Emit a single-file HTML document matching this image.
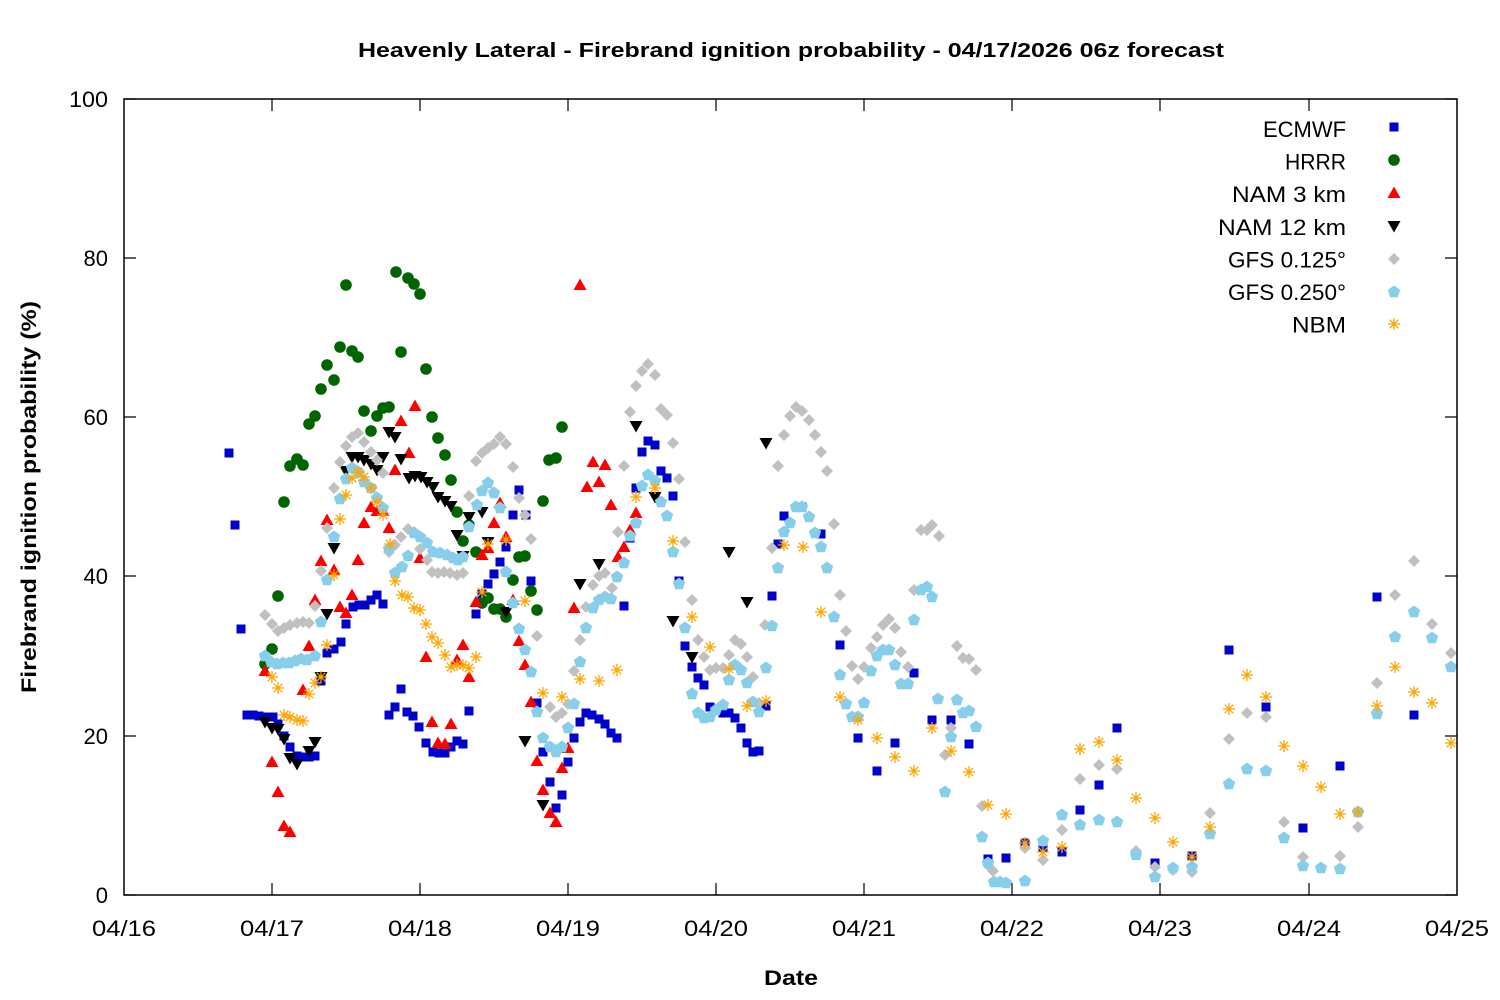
<!DOCTYPE html>
<html><head><meta charset="utf-8"><style>html,body{margin:0;padding:0;background:#fff}svg{display:block}text{font-family:"Liberation Sans",sans-serif;fill:#000}</style></head><body>
<svg width="1500" height="1000" viewBox="0 0 1500 1000" xmlns="http://www.w3.org/2000/svg">
<defs>
<rect id="s" x="-4.5" y="-4.5" width="9" height="9" fill="#0000cc"/>
<circle id="c" r="5.8" fill="#006400"/>
<polygon id="u" points="0,-6.5 6.5,5 -6.5,5" fill="#ff0000"/>
<polygon id="d" points="-6.5,-5 6.5,-5 0,6.5" fill="#000"/>
<polygon id="g" points="0,-6 6,0 0,6 -6,0" fill="#c0c0c0"/>
<polygon id="p" points="0,-6.5 6.18,-2.01 3.82,5.26 -3.82,5.26 -6.18,-2.01" fill="#87ceeb"/>
<path id="a" d="M-6,0H6M0,-6V6M-4.3,-4.3L4.3,4.3M-4.3,4.3L4.3,-4.3" stroke="#ffa500" stroke-width="1.3" fill="none"/>
</defs>
<rect x="0" y="0" width="1500" height="1000" fill="#fff"/>
<text x="791" y="57" text-anchor="middle" font-size="20" font-weight="bold" textLength="866" lengthAdjust="spacingAndGlyphs">Heavenly Lateral - Firebrand ignition probability - 04/17/2026 06z forecast</text>
<g stroke="#000" stroke-width="1.2">
<path d="M124,895h12M124,736h12M124,576h12M124,417h12M124,258h12M124,99h12M1457,895h-12M1457,736h-12M1457,576h-12M1457,417h-12M1457,258h-12M1457,99h-12"/>
<path d="M272,895v-12M420,895v-12M568,895v-12M716,895v-12M864,895v-12M1012,895v-12M1160,895v-12M1309,895v-12M272,99v12M420,99v12M568,99v12M716,99v12M864,99v12M1012,99v12M1160,99v12M1309,99v12"/>
</g>
<g font-size="22" text-anchor="end">
<text x="108" y="903">0</text>
<text x="108" y="744">20</text>
<text x="108" y="584">40</text>
<text x="108" y="425">60</text>
<text x="108" y="266">80</text>
<text x="108" y="107" textLength="39" lengthAdjust="spacingAndGlyphs">100</text>
</g>
<g font-size="22" text-anchor="middle">
<text x="124" y="936" textLength="64" lengthAdjust="spacingAndGlyphs">04/16</text>
<text x="272" y="936" textLength="64" lengthAdjust="spacingAndGlyphs">04/17</text>
<text x="420" y="936" textLength="64" lengthAdjust="spacingAndGlyphs">04/18</text>
<text x="568" y="936" textLength="64" lengthAdjust="spacingAndGlyphs">04/19</text>
<text x="716" y="936" textLength="64" lengthAdjust="spacingAndGlyphs">04/20</text>
<text x="864" y="936" textLength="64" lengthAdjust="spacingAndGlyphs">04/21</text>
<text x="1012" y="936" textLength="64" lengthAdjust="spacingAndGlyphs">04/22</text>
<text x="1160" y="936" textLength="64" lengthAdjust="spacingAndGlyphs">04/23</text>
<text x="1309" y="936" textLength="64" lengthAdjust="spacingAndGlyphs">04/24</text>
<text x="1457" y="936" textLength="64" lengthAdjust="spacingAndGlyphs">04/25</text>
</g>
<text x="791" y="985" text-anchor="middle" font-size="21" font-weight="bold" textLength="54" lengthAdjust="spacingAndGlyphs">Date</text>
<text transform="translate(36,497) rotate(-90)" text-anchor="middle" font-size="21" font-weight="bold" textLength="392" lengthAdjust="spacingAndGlyphs">Firebrand ignition probability (%)</text>
<g font-size="22" text-anchor="end">
<text x="1346" y="137" textLength="83" lengthAdjust="spacingAndGlyphs">ECMWF</text>
<text x="1346" y="169.5" textLength="61" lengthAdjust="spacingAndGlyphs">HRRR</text>
<text x="1346" y="202" textLength="114" lengthAdjust="spacingAndGlyphs">NAM 3 km</text>
<text x="1346" y="235" textLength="128" lengthAdjust="spacingAndGlyphs">NAM 12 km</text>
<text x="1346" y="267.5" textLength="118" lengthAdjust="spacingAndGlyphs">GFS 0.125°</text>
<text x="1346" y="300" textLength="118" lengthAdjust="spacingAndGlyphs">GFS 0.250°</text>
<text x="1346" y="332.5" textLength="54" lengthAdjust="spacingAndGlyphs">NBM</text>
</g>
<use href="#s" x="1394" y="127"/>
<use href="#c" x="1394" y="160"/>
<use href="#u" x="1394" y="193"/>
<use href="#d" x="1394" y="226"/>
<use href="#g" x="1394" y="259"/>
<use href="#p" x="1394" y="292"/>
<use href="#a" x="1394" y="324"/>
<!-- ECMWF -->
<g>
<use href="#s" x="229" y="453"/><use href="#s" x="235" y="525"/><use href="#s" x="241" y="629"/><use href="#s" x="247" y="715"/><use href="#s" x="253" y="715"/><use href="#s" x="259" y="716"/><use href="#s" x="265" y="717"/><use href="#s" x="273" y="717"/><use href="#s" x="278" y="724"/><use href="#s" x="284" y="736"/><use href="#s" x="290" y="747"/><use href="#s" x="297" y="756"/><use href="#s" x="303" y="757"/><use href="#s" x="309" y="757"/><use href="#s" x="315" y="756"/><use href="#s" x="321" y="681"/><use href="#s" x="327" y="653"/><use href="#s" x="334" y="649"/><use href="#s" x="341" y="642"/><use href="#s" x="346" y="624"/><use href="#s" x="353" y="607"/><use href="#s" x="359" y="605"/><use href="#s" x="365" y="605"/><use href="#s" x="371" y="600"/><use href="#s" x="377" y="595"/><use href="#s" x="383" y="604"/><use href="#s" x="389" y="715"/><use href="#s" x="395" y="707"/><use href="#s" x="401" y="689"/><use href="#s" x="407" y="712"/><use href="#s" x="413" y="716"/><use href="#s" x="419" y="727"/><use href="#s" x="426" y="743"/><use href="#s" x="433" y="752"/><use href="#s" x="439" y="753"/><use href="#s" x="445" y="753"/><use href="#s" x="451" y="747"/><use href="#s" x="457" y="741"/><use href="#s" x="463" y="744"/><use href="#s" x="469" y="711"/><use href="#s" x="476" y="614"/><use href="#s" x="482" y="594"/><use href="#s" x="488" y="584"/><use href="#s" x="494" y="574"/><use href="#s" x="500" y="562"/><use href="#s" x="506" y="547"/><use href="#s" x="513" y="515"/><use href="#s" x="519" y="490"/><use href="#s" x="526" y="515"/><use href="#s" x="531" y="581"/><use href="#s" x="537" y="703"/><use href="#s" x="543" y="752"/><use href="#s" x="550" y="782"/><use href="#s" x="556" y="808"/><use href="#s" x="562" y="795"/><use href="#s" x="568" y="762"/><use href="#s" x="574" y="738"/><use href="#s" x="580" y="722"/><use href="#s" x="586" y="713"/><use href="#s" x="592" y="715"/><use href="#s" x="599" y="719"/><use href="#s" x="605" y="724"/><use href="#s" x="611" y="733"/><use href="#s" x="617" y="738"/><use href="#s" x="624" y="606"/><use href="#s" x="630" y="538"/><use href="#s" x="636" y="488"/><use href="#s" x="642" y="452"/><use href="#s" x="648" y="441"/><use href="#s" x="655" y="445"/><use href="#s" x="661" y="471"/><use href="#s" x="667" y="478"/><use href="#s" x="673" y="496"/><use href="#s" x="679" y="581"/><use href="#s" x="685" y="646"/><use href="#s" x="692" y="667"/><use href="#s" x="698" y="678"/><use href="#s" x="704" y="685"/><use href="#s" x="710" y="707"/><use href="#s" x="716" y="709"/><use href="#s" x="723" y="713"/><use href="#s" x="729" y="713"/><use href="#s" x="735" y="718"/><use href="#s" x="741" y="728"/><use href="#s" x="747" y="743"/><use href="#s" x="753" y="752"/><use href="#s" x="759" y="751"/><use href="#s" x="766" y="706"/><use href="#s" x="772" y="596"/><use href="#s" x="778" y="544"/><use href="#s" x="784" y="516"/><use href="#s" x="802" y="507"/><use href="#s" x="821" y="534"/><use href="#s" x="840" y="645"/><use href="#s" x="858" y="738"/><use href="#s" x="877" y="771"/><use href="#s" x="895" y="743"/><use href="#s" x="914" y="673"/><use href="#s" x="932" y="720"/><use href="#s" x="951" y="720"/><use href="#s" x="969" y="744"/><use href="#s" x="988" y="859"/><use href="#s" x="1006" y="858"/><use href="#s" x="1025" y="843"/><use href="#s" x="1043" y="848"/><use href="#s" x="1062" y="852"/><use href="#s" x="1080" y="810"/><use href="#s" x="1099" y="785"/><use href="#s" x="1117" y="728"/><use href="#s" x="1155" y="863"/><use href="#s" x="1192" y="856"/><use href="#s" x="1229" y="650"/><use href="#s" x="1266" y="707"/><use href="#s" x="1303" y="828"/><use href="#s" x="1340" y="766"/><use href="#s" x="1377" y="597"/><use href="#s" x="1414" y="715"/>
</g>
<!-- HRRR -->
<g>
<use href="#c" x="265" y="664"/><use href="#c" x="272" y="649"/><use href="#c" x="278" y="596"/><use href="#c" x="284" y="502"/><use href="#c" x="290" y="466"/><use href="#c" x="297" y="459"/><use href="#c" x="303" y="465"/><use href="#c" x="309" y="424"/><use href="#c" x="315" y="416"/><use href="#c" x="321" y="389"/><use href="#c" x="327" y="365"/><use href="#c" x="334" y="380"/><use href="#c" x="340" y="347"/><use href="#c" x="346" y="285"/><use href="#c" x="352" y="351"/><use href="#c" x="358" y="357"/><use href="#c" x="364" y="411"/><use href="#c" x="371" y="431"/><use href="#c" x="377" y="416"/><use href="#c" x="383" y="408"/><use href="#c" x="389" y="407"/><use href="#c" x="396" y="272"/><use href="#c" x="401" y="352"/><use href="#c" x="408" y="278"/><use href="#c" x="414" y="284"/><use href="#c" x="420" y="294"/><use href="#c" x="426" y="369"/><use href="#c" x="432" y="417"/><use href="#c" x="438" y="438"/><use href="#c" x="445" y="455"/><use href="#c" x="451" y="480"/><use href="#c" x="457" y="512"/><use href="#c" x="463" y="541"/><use href="#c" x="469" y="525"/><use href="#c" x="476" y="552"/><use href="#c" x="482" y="603"/><use href="#c" x="488" y="598"/><use href="#c" x="494" y="609"/><use href="#c" x="500" y="609"/><use href="#c" x="506" y="617"/><use href="#c" x="513" y="580"/><use href="#c" x="519" y="557"/><use href="#c" x="525" y="556"/><use href="#c" x="531" y="591"/><use href="#c" x="537" y="610"/><use href="#c" x="543" y="501"/><use href="#c" x="549" y="460"/><use href="#c" x="556" y="458"/><use href="#c" x="562" y="427"/>
</g>
<!-- NAM 3 km -->
<g>
<use href="#u" x="265" y="671"/><use href="#u" x="272" y="762"/><use href="#u" x="278" y="792"/><use href="#u" x="284" y="826"/><use href="#u" x="290" y="832"/><use href="#u" x="303" y="690"/><use href="#u" x="309" y="646"/><use href="#u" x="315" y="600"/><use href="#u" x="321" y="561"/><use href="#u" x="327" y="520"/><use href="#u" x="334" y="570"/><use href="#u" x="340" y="607"/><use href="#u" x="346" y="613"/><use href="#u" x="352" y="595"/><use href="#u" x="358" y="560"/><use href="#u" x="364" y="523"/><use href="#u" x="371" y="507"/><use href="#u" x="377" y="511"/><use href="#u" x="383" y="511"/><use href="#u" x="389" y="528"/><use href="#u" x="395" y="470"/><use href="#u" x="401" y="421"/><use href="#u" x="409" y="453"/><use href="#u" x="415" y="406"/><use href="#u" x="420" y="558"/><use href="#u" x="426" y="657"/><use href="#u" x="432" y="722"/><use href="#u" x="438" y="743"/><use href="#u" x="445" y="744"/><use href="#u" x="451" y="724"/><use href="#u" x="457" y="660"/><use href="#u" x="463" y="645"/><use href="#u" x="469" y="677"/><use href="#u" x="476" y="602"/><use href="#u" x="482" y="555"/><use href="#u" x="488" y="548"/><use href="#u" x="494" y="523"/><use href="#u" x="500" y="503"/><use href="#u" x="506" y="537"/><use href="#u" x="513" y="600"/><use href="#u" x="519" y="641"/><use href="#u" x="525" y="665"/><use href="#u" x="531" y="702"/><use href="#u" x="537" y="761"/><use href="#u" x="543" y="790"/><use href="#u" x="550" y="813"/><use href="#u" x="556" y="822"/><use href="#u" x="562" y="768"/><use href="#u" x="568" y="748"/><use href="#u" x="574" y="608"/><use href="#u" x="580" y="285"/><use href="#u" x="587" y="487"/><use href="#u" x="593" y="462"/><use href="#u" x="599" y="482"/><use href="#u" x="605" y="465"/><use href="#u" x="611" y="505"/><use href="#u" x="618" y="557"/><use href="#u" x="624" y="547"/><use href="#u" x="630" y="530"/><use href="#u" x="636" y="513"/>
</g>
<!-- NAM 12 km -->
<g>
<use href="#d" x="265" y="722"/><use href="#d" x="272" y="728"/><use href="#d" x="278" y="729"/><use href="#d" x="284" y="739"/><use href="#d" x="290" y="758"/><use href="#d" x="297" y="764"/><use href="#d" x="309" y="751"/><use href="#d" x="315" y="742"/><use href="#d" x="321" y="677"/><use href="#d" x="327" y="614"/><use href="#d" x="334" y="548"/><use href="#d" x="346" y="471"/><use href="#d" x="352" y="457"/><use href="#d" x="358" y="457"/><use href="#d" x="364" y="460"/><use href="#d" x="371" y="464"/><use href="#d" x="377" y="470"/><use href="#d" x="383" y="457"/><use href="#d" x="389" y="432"/><use href="#d" x="395" y="437"/><use href="#d" x="401" y="459"/><use href="#d" x="409" y="478"/><use href="#d" x="415" y="476"/><use href="#d" x="421" y="477"/><use href="#d" x="427" y="482"/><use href="#d" x="433" y="487"/><use href="#d" x="438" y="497"/><use href="#d" x="445" y="501"/><use href="#d" x="451" y="506"/><use href="#d" x="457" y="535"/><use href="#d" x="463" y="556"/><use href="#d" x="469" y="517"/><use href="#d" x="482" y="512"/><use href="#d" x="488" y="542"/><use href="#d" x="506" y="612"/><use href="#d" x="525" y="741"/><use href="#d" x="543" y="805"/><use href="#d" x="580" y="584"/><use href="#d" x="599" y="564"/><use href="#d" x="636" y="426"/><use href="#d" x="655" y="497"/><use href="#d" x="673" y="621"/><use href="#d" x="692" y="657"/><use href="#d" x="729" y="552"/><use href="#d" x="747" y="602"/><use href="#d" x="766" y="443"/>
</g>
<!-- GFS 0.125 -->
<g>
<use href="#g" x="265" y="615"/><use href="#g" x="272" y="624"/><use href="#g" x="278" y="631"/><use href="#g" x="284" y="628"/><use href="#g" x="290" y="625"/><use href="#g" x="297" y="623"/><use href="#g" x="303" y="622"/><use href="#g" x="309" y="623"/><use href="#g" x="315" y="606"/><use href="#g" x="321" y="571"/><use href="#g" x="327" y="528"/><use href="#g" x="334" y="488"/><use href="#g" x="340" y="462"/><use href="#g" x="346" y="446"/><use href="#g" x="352" y="437"/><use href="#g" x="358" y="433"/><use href="#g" x="364" y="442"/><use href="#g" x="371" y="452"/><use href="#g" x="377" y="460"/><use href="#g" x="383" y="473"/><use href="#g" x="389" y="552"/><use href="#g" x="395" y="545"/><use href="#g" x="401" y="537"/><use href="#g" x="408" y="529"/><use href="#g" x="414" y="532"/><use href="#g" x="420" y="549"/><use href="#g" x="427" y="560"/><use href="#g" x="432" y="572"/><use href="#g" x="438" y="573"/><use href="#g" x="444" y="572"/><use href="#g" x="450" y="573"/><use href="#g" x="457" y="575"/><use href="#g" x="463" y="573"/><use href="#g" x="469" y="496"/><use href="#g" x="476" y="461"/><use href="#g" x="482" y="453"/><use href="#g" x="488" y="448"/><use href="#g" x="494" y="444"/><use href="#g" x="500" y="437"/><use href="#g" x="506" y="444"/><use href="#g" x="513" y="467"/><use href="#g" x="519" y="498"/><use href="#g" x="525" y="515"/><use href="#g" x="531" y="539"/><use href="#g" x="537" y="636"/><use href="#g" x="550" y="707"/><use href="#g" x="556" y="717"/><use href="#g" x="562" y="713"/><use href="#g" x="568" y="704"/><use href="#g" x="574" y="671"/><use href="#g" x="580" y="640"/><use href="#g" x="586" y="607"/><use href="#g" x="593" y="585"/><use href="#g" x="599" y="576"/><use href="#g" x="605" y="573"/><use href="#g" x="612" y="588"/><use href="#g" x="618" y="532"/><use href="#g" x="624" y="466"/><use href="#g" x="630" y="412"/><use href="#g" x="636" y="386"/><use href="#g" x="642" y="371"/><use href="#g" x="648" y="364"/><use href="#g" x="655" y="375"/><use href="#g" x="661" y="409"/><use href="#g" x="667" y="415"/><use href="#g" x="673" y="443"/><use href="#g" x="679" y="479"/><use href="#g" x="685" y="542"/><use href="#g" x="692" y="600"/><use href="#g" x="698" y="640"/><use href="#g" x="704" y="657"/><use href="#g" x="710" y="670"/><use href="#g" x="716" y="668"/><use href="#g" x="723" y="668"/><use href="#g" x="729" y="655"/><use href="#g" x="735" y="640"/><use href="#g" x="741" y="644"/><use href="#g" x="747" y="657"/><use href="#g" x="753" y="677"/><use href="#g" x="759" y="703"/><use href="#g" x="765" y="625"/><use href="#g" x="772" y="548"/><use href="#g" x="778" y="466"/><use href="#g" x="784" y="435"/><use href="#g" x="790" y="416"/><use href="#g" x="796" y="407"/><use href="#g" x="802" y="411"/><use href="#g" x="809" y="420"/><use href="#g" x="815" y="435"/><use href="#g" x="821" y="452"/><use href="#g" x="827" y="471"/><use href="#g" x="834" y="524"/><use href="#g" x="840" y="595"/><use href="#g" x="846" y="631"/><use href="#g" x="852" y="666"/><use href="#g" x="858" y="679"/><use href="#g" x="864" y="667"/><use href="#g" x="871" y="648"/><use href="#g" x="877" y="637"/><use href="#g" x="883" y="625"/><use href="#g" x="889" y="619"/><use href="#g" x="895" y="628"/><use href="#g" x="901" y="652"/><use href="#g" x="908" y="667"/><use href="#g" x="914" y="590"/><use href="#g" x="921" y="530"/><use href="#g" x="927" y="530"/><use href="#g" x="932" y="525"/><use href="#g" x="939" y="536"/><use href="#g" x="945" y="755"/><use href="#g" x="951" y="728"/><use href="#g" x="957" y="646"/><use href="#g" x="963" y="658"/><use href="#g" x="969" y="659"/><use href="#g" x="976" y="670"/><use href="#g" x="982" y="806"/><use href="#g" x="988" y="865"/><use href="#g" x="993" y="871"/><use href="#g" x="1025" y="848"/><use href="#g" x="1043" y="860"/><use href="#g" x="1062" y="830"/><use href="#g" x="1080" y="779"/><use href="#g" x="1099" y="765"/><use href="#g" x="1117" y="769"/><use href="#g" x="1136" y="851"/><use href="#g" x="1155" y="867"/><use href="#g" x="1173" y="870"/><use href="#g" x="1192" y="872"/><use href="#g" x="1210" y="813"/><use href="#g" x="1229" y="739"/><use href="#g" x="1247" y="713"/><use href="#g" x="1266" y="717"/><use href="#g" x="1284" y="822"/><use href="#g" x="1303" y="857"/><use href="#g" x="1340" y="856"/><use href="#g" x="1358" y="827"/><use href="#g" x="1377" y="683"/><use href="#g" x="1395" y="595"/><use href="#g" x="1414" y="561"/><use href="#g" x="1432" y="624"/><use href="#g" x="1451" y="653"/>
</g>
<!-- GFS 0.250 -->
<g>
<use href="#p" x="265" y="656"/><use href="#p" x="271" y="662"/><use href="#p" x="277" y="664"/><use href="#p" x="283" y="663"/><use href="#p" x="289" y="663"/><use href="#p" x="295" y="661"/><use href="#p" x="301" y="659"/><use href="#p" x="307" y="660"/><use href="#p" x="315" y="656"/><use href="#p" x="321" y="622"/><use href="#p" x="327" y="580"/><use href="#p" x="334" y="537"/><use href="#p" x="340" y="499"/><use href="#p" x="346" y="479"/><use href="#p" x="352" y="468"/><use href="#p" x="358" y="472"/><use href="#p" x="364" y="482"/><use href="#p" x="371" y="488"/><use href="#p" x="377" y="498"/><use href="#p" x="383" y="508"/><use href="#p" x="389" y="549"/><use href="#p" x="395" y="573"/><use href="#p" x="402" y="567"/><use href="#p" x="408" y="556"/><use href="#p" x="414" y="533"/><use href="#p" x="420" y="537"/><use href="#p" x="427" y="543"/><use href="#p" x="433" y="552"/><use href="#p" x="440" y="553"/><use href="#p" x="447" y="555"/><use href="#p" x="453" y="558"/><use href="#p" x="458" y="560"/><use href="#p" x="463" y="557"/><use href="#p" x="469" y="527"/><use href="#p" x="477" y="505"/><use href="#p" x="482" y="491"/><use href="#p" x="488" y="483"/><use href="#p" x="494" y="493"/><use href="#p" x="500" y="508"/><use href="#p" x="506" y="572"/><use href="#p" x="513" y="603"/><use href="#p" x="519" y="629"/><use href="#p" x="525" y="650"/><use href="#p" x="531" y="672"/><use href="#p" x="537" y="712"/><use href="#p" x="543" y="738"/><use href="#p" x="550" y="747"/><use href="#p" x="556" y="752"/><use href="#p" x="562" y="747"/><use href="#p" x="568" y="728"/><use href="#p" x="574" y="704"/><use href="#p" x="580" y="662"/><use href="#p" x="586" y="628"/><use href="#p" x="593" y="608"/><use href="#p" x="599" y="600"/><use href="#p" x="605" y="597"/><use href="#p" x="611" y="599"/><use href="#p" x="617" y="577"/><use href="#p" x="624" y="563"/><use href="#p" x="630" y="536"/><use href="#p" x="636" y="523"/><use href="#p" x="642" y="486"/><use href="#p" x="648" y="475"/><use href="#p" x="655" y="481"/><use href="#p" x="661" y="502"/><use href="#p" x="667" y="516"/><use href="#p" x="673" y="552"/><use href="#p" x="679" y="584"/><use href="#p" x="685" y="628"/><use href="#p" x="692" y="694"/><use href="#p" x="698" y="713"/><use href="#p" x="704" y="718"/><use href="#p" x="710" y="717"/><use href="#p" x="716" y="710"/><use href="#p" x="723" y="705"/><use href="#p" x="729" y="680"/><use href="#p" x="735" y="665"/><use href="#p" x="741" y="670"/><use href="#p" x="747" y="683"/><use href="#p" x="753" y="702"/><use href="#p" x="759" y="712"/><use href="#p" x="766" y="668"/><use href="#p" x="772" y="626"/><use href="#p" x="778" y="568"/><use href="#p" x="784" y="532"/><use href="#p" x="790" y="523"/><use href="#p" x="796" y="507"/><use href="#p" x="802" y="507"/><use href="#p" x="809" y="517"/><use href="#p" x="815" y="533"/><use href="#p" x="821" y="547"/><use href="#p" x="827" y="568"/><use href="#p" x="834" y="617"/><use href="#p" x="840" y="675"/><use href="#p" x="846" y="704"/><use href="#p" x="852" y="717"/><use href="#p" x="858" y="717"/><use href="#p" x="864" y="703"/><use href="#p" x="871" y="671"/><use href="#p" x="877" y="656"/><use href="#p" x="883" y="650"/><use href="#p" x="889" y="650"/><use href="#p" x="895" y="665"/><use href="#p" x="901" y="684"/><use href="#p" x="908" y="684"/><use href="#p" x="914" y="620"/><use href="#p" x="921" y="590"/><use href="#p" x="927" y="587"/><use href="#p" x="932" y="597"/><use href="#p" x="938" y="699"/><use href="#p" x="945" y="792"/><use href="#p" x="951" y="737"/><use href="#p" x="957" y="700"/><use href="#p" x="963" y="713"/><use href="#p" x="969" y="711"/><use href="#p" x="976" y="727"/><use href="#p" x="982" y="837"/><use href="#p" x="988" y="863"/><use href="#p" x="994" y="882"/><use href="#p" x="1000" y="882"/><use href="#p" x="1006" y="883"/><use href="#p" x="1025" y="881"/><use href="#p" x="1043" y="841"/><use href="#p" x="1062" y="815"/><use href="#p" x="1080" y="825"/><use href="#p" x="1099" y="820"/><use href="#p" x="1117" y="822"/><use href="#p" x="1136" y="855"/><use href="#p" x="1155" y="877"/><use href="#p" x="1173" y="868"/><use href="#p" x="1192" y="867"/><use href="#p" x="1210" y="834"/><use href="#p" x="1229" y="784"/><use href="#p" x="1247" y="769"/><use href="#p" x="1266" y="771"/><use href="#p" x="1284" y="838"/><use href="#p" x="1303" y="866"/><use href="#p" x="1321" y="868"/><use href="#p" x="1340" y="869"/><use href="#p" x="1358" y="812"/><use href="#p" x="1377" y="714"/><use href="#p" x="1395" y="637"/><use href="#p" x="1414" y="612"/><use href="#p" x="1432" y="638"/><use href="#p" x="1451" y="667"/>
</g>
<!-- NBM -->
<g>
<use href="#a" x="272" y="677"/><use href="#a" x="278" y="688"/><use href="#a" x="284" y="715"/><use href="#a" x="290" y="717"/><use href="#a" x="297" y="720"/><use href="#a" x="303" y="721"/><use href="#a" x="309" y="694"/><use href="#a" x="315" y="683"/><use href="#a" x="321" y="677"/><use href="#a" x="327" y="645"/><use href="#a" x="334" y="575"/><use href="#a" x="340" y="519"/><use href="#a" x="346" y="495"/><use href="#a" x="352" y="478"/><use href="#a" x="358" y="472"/><use href="#a" x="364" y="477"/><use href="#a" x="371" y="488"/><use href="#a" x="377" y="502"/><use href="#a" x="383" y="515"/><use href="#a" x="390" y="544"/><use href="#a" x="395" y="581"/><use href="#a" x="402" y="595"/><use href="#a" x="408" y="597"/><use href="#a" x="414" y="608"/><use href="#a" x="420" y="610"/><use href="#a" x="426" y="624"/><use href="#a" x="432" y="637"/><use href="#a" x="438" y="643"/><use href="#a" x="445" y="655"/><use href="#a" x="451" y="667"/><use href="#a" x="457" y="665"/><use href="#a" x="463" y="665"/><use href="#a" x="469" y="668"/><use href="#a" x="476" y="657"/><use href="#a" x="482" y="592"/><use href="#a" x="488" y="544"/><use href="#a" x="506" y="540"/><use href="#a" x="525" y="601"/><use href="#a" x="543" y="693"/><use href="#a" x="562" y="697"/><use href="#a" x="580" y="679"/><use href="#a" x="599" y="681"/><use href="#a" x="617" y="670"/><use href="#a" x="636" y="497"/><use href="#a" x="655" y="488"/><use href="#a" x="673" y="541"/><use href="#a" x="692" y="617"/><use href="#a" x="710" y="647"/><use href="#a" x="729" y="669"/><use href="#a" x="747" y="706"/><use href="#a" x="766" y="701"/><use href="#a" x="784" y="545"/><use href="#a" x="803" y="547"/><use href="#a" x="821" y="612"/><use href="#a" x="840" y="697"/><use href="#a" x="858" y="720"/><use href="#a" x="877" y="738"/><use href="#a" x="895" y="757"/><use href="#a" x="914" y="771"/><use href="#a" x="932" y="728"/><use href="#a" x="951" y="751"/><use href="#a" x="969" y="772"/><use href="#a" x="988" y="805"/><use href="#a" x="1006" y="814"/><use href="#a" x="1025" y="843"/><use href="#a" x="1043" y="852"/><use href="#a" x="1062" y="847"/><use href="#a" x="1080" y="749"/><use href="#a" x="1099" y="742"/><use href="#a" x="1117" y="760"/><use href="#a" x="1136" y="798"/><use href="#a" x="1155" y="818"/><use href="#a" x="1173" y="842"/><use href="#a" x="1192" y="857"/><use href="#a" x="1210" y="827"/><use href="#a" x="1229" y="709"/><use href="#a" x="1247" y="675"/><use href="#a" x="1266" y="697"/><use href="#a" x="1284" y="746"/><use href="#a" x="1303" y="766"/><use href="#a" x="1321" y="787"/><use href="#a" x="1340" y="814"/><use href="#a" x="1358" y="812"/><use href="#a" x="1377" y="706"/><use href="#a" x="1395" y="667"/><use href="#a" x="1414" y="692"/><use href="#a" x="1432" y="703"/><use href="#a" x="1451" y="743"/>
</g>
<rect x="124" y="99" width="1333" height="796" fill="none" stroke="#000" stroke-width="1.5"/>
</svg>
</body></html>
